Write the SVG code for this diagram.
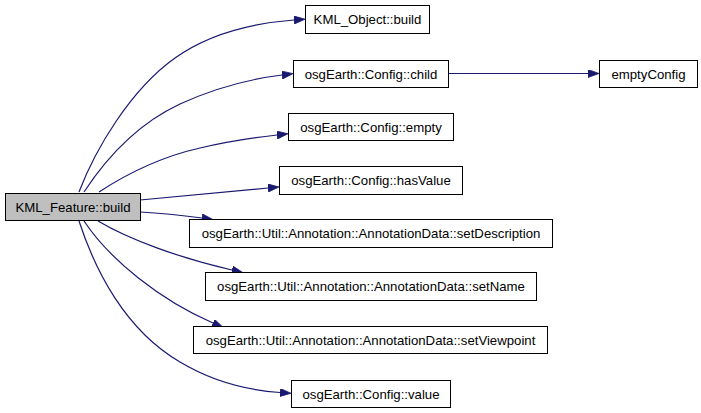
<svg xmlns="http://www.w3.org/2000/svg" width="701" height="413" viewBox="0 0 701 413">
<style>
.node rect{fill:#ffffff;stroke:#000000;stroke-width:1}
.node.root rect{fill:#bfbfbf}
.node text{font-family:"Liberation Sans",Arial,sans-serif;font-size:13.2px;fill:#000000;text-anchor:middle}
.edges path{fill:none;stroke:#191970;stroke-width:1.2;marker-end:url(#arr)}
</style>
<defs>
<marker id="arr" viewBox="0 0 11 8" refX="0" refY="4" markerWidth="11" markerHeight="8" markerUnits="userSpaceOnUse" orient="auto">
<path d="M0,0 L11,4 L0,8 z" fill="#191970" stroke="#191970" stroke-width="0.8"/>
</marker>
</defs>
<rect width="701" height="413" fill="#ffffff"/>
<g class="edges">
<path d="M79,192 C95,150 130,90 175,58 C210,33 255,23 294,20"/>
<path d="M84,192 C105,160 135,125 180,104 C215,88 250,79 282,75"/>
<path d="M448,73.5 L588,73.5"/>
<path d="M99,192 C125,175 160,157 200,148 C225,142 250,138 277,135"/>
<path d="M140,200 L268,188"/>
<path d="M140,212 C160,213 180,215 202,218"/>
<path d="M98,221 C130,240 180,258 232,270"/>
<path d="M84,221 C110,260 160,300 213,323"/>
<path d="M79,221 C95,270 125,330 180,362 C210,380 245,390 280,392.5"/>
</g>
<g id="n_KML_Feature_build" class="node root"><rect x="5.5" y="193.5" width="135" height="27"/><text x="73" y="211.5">KML_Feature::build</text></g>
<g id="n_KML_Object_build" class="node"><rect x="305.5" y="5.5" width="124" height="28"/><text x="367.5" y="24">KML_Object::build</text></g>
<g id="n_Config_child" class="node"><rect x="293.5" y="60.5" width="155" height="27"/><text x="371" y="78.5">osgEarth::Config::child</text></g>
<g id="n_emptyConfig" class="node"><rect x="599.5" y="60.5" width="98" height="27"/><text x="648.5" y="78.5">emptyConfig</text></g>
<g id="n_Config_empty" class="node"><rect x="288.5" y="113.5" width="165" height="27"/><text x="371" y="131.5">osgEarth::Config::empty</text></g>
<g id="n_Config_hasValue" class="node"><rect x="279.5" y="166.5" width="183" height="28"/><text x="371" y="185">osgEarth::Config::hasValue</text></g>
<g id="n_setDescription" class="node"><rect x="189.5" y="219.5" width="363" height="28"/><text x="371" y="238">osgEarth::Util::Annotation::AnnotationData::setDescription</text></g>
<g id="n_setName" class="node"><rect x="205.5" y="272.5" width="331" height="28"/><text x="371" y="291">osgEarth::Util::Annotation::AnnotationData::setName</text></g>
<g id="n_setViewpoint" class="node"><rect x="193.5" y="326.5" width="354" height="27"/><text x="370.5" y="344.5">osgEarth::Util::Annotation::AnnotationData::setViewpoint</text></g>
<g id="n_Config_value" class="node"><rect x="291.5" y="380.5" width="159" height="27"/><text x="371" y="398.5">osgEarth::Config::value</text></g>
</svg>
